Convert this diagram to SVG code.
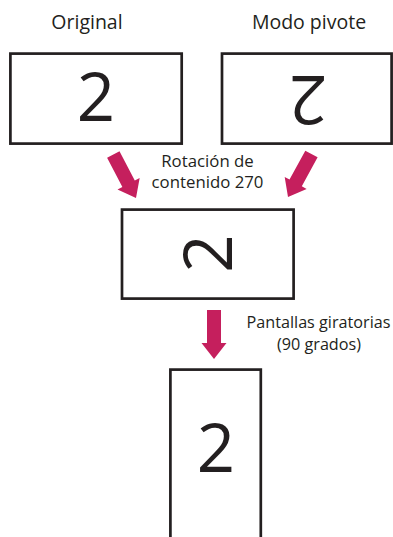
<svg xmlns="http://www.w3.org/2000/svg" width="393" height="537" viewBox="0 0 393 537">
  <style>
    .box { fill: #ffffff; stroke: #231f20; stroke-width: 2.7; }
    .digit { font-family: "Open Sans", "Noto Sans", sans-serif; font-size: 67px; fill: #231f20; text-anchor: middle; }
    .title { font-family: "Open Sans", "Noto Sans", sans-serif; font-size: 19.5px; fill: #231f20; text-anchor: middle; }
    .lbl { font-family: "Open Sans", "Noto Sans", sans-serif; font-size: 16.8px; fill: #231f20; text-anchor: middle; }
    .lbl2 { font-family: "Open Sans", "Noto Sans", sans-serif; font-size: 16.2px; fill: #231f20; text-anchor: middle; }
    .arrow { fill: #c51f5d; }
  </style>
  <defs>
    <path id="arr" d="M-7,-49 L7,-49 L7,-16 L12.5,-16 L0,0 L-12.5,-16 L-7,-16 Z"/>
  </defs>
  <rect width="393" height="537" fill="#ffffff"/>

  <g id="original">
    <text class="title" x="87" y="29">Original</text>
    <rect class="box" x="10.4" y="53.6" width="171.3" height="90"/>
    <text class="digit" x="96" y="121">2</text>
  </g>

  <g id="modo-pivote">
    <text class="title" x="309" y="29">Modo pivote</text>
    <rect class="box" x="222" y="53.6" width="169.6" height="90"/>
    <text class="digit" x="308" y="123.5" transform="rotate(180 308 99.5)">2</text>
  </g>

  <g id="rotacion">
    <rect class="box" x="122" y="209.6" width="171.6" height="89"/>
    <text class="digit" x="208" y="277.5" transform="rotate(-90 208 253.5)">2</text>
  </g>

  <g id="pantallas">
    <rect class="box" x="170.4" y="369.6" width="90.4" height="200"/>
    <text class="digit" x="216" y="472.3">2</text>
  </g>

  <g id="connectors">
    <use href="#arr" class="arrow" transform="translate(136,198) rotate(-27.6)"/>
    <use href="#arr" class="arrow" transform="translate(288,197) rotate(28.6)"/>
    <use href="#arr" class="arrow" transform="translate(214,359)"/>
    <text class="lbl" x="207.5" y="166.7">Rotación de</text>
    <text class="lbl" x="207.5" y="188.3">contenido 270</text>
    <text class="lbl2" x="318.5" y="328.3">Pantallas giratorias</text>
    <text class="lbl2" x="319" y="349.5">(90 grados)</text>
  </g>
</svg>
